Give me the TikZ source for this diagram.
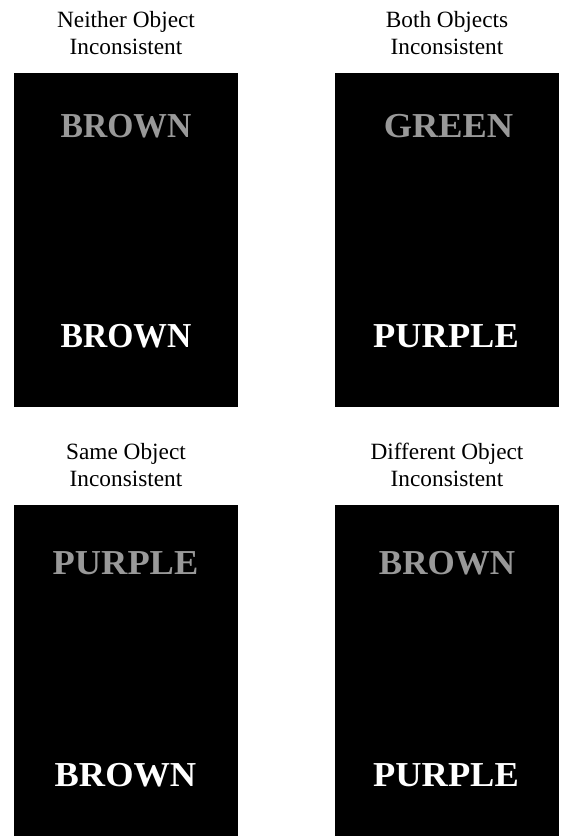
\documentclass[tikz,border=0pt]{standalone}
\usepackage{fontspec}
\setmainfont{Liberation Serif}
\begin{document}
\begin{tikzpicture}[x=1pt,y=-1pt,
  panel/.style={fill=black,draw=none},
  ttl/.style={anchor=base,inner sep=0pt,font=\fontsize{23.3}{27}\selectfont},
  word/.style={anchor=base,inner sep=0pt,font=\fontsize{35}{40}\selectfont\bfseries},
  dim/.style={word,text={rgb,255:red,153;green,153;blue,153}},
  lit/.style={word,text=white}]
\useasboundingbox (0,0) rectangle (564,836);
% panels
\path[panel] (14,73) rectangle (238,407);
\path[panel] (335,73) rectangle (559,407);
\path[panel] (14,505) rectangle (238,836);
\path[panel] (335,505) rectangle (559,836);
% titles
\node[ttl] (t1a) at (126,27) {Neither Object};
\node[ttl] (t1b) at (126,54) {Inconsistent};
\node[ttl] (t2a) at (447,27) {Both Objects};
\node[ttl] (t2b) at (447,54) {Inconsistent};
\node[ttl] (t3a) at (126,459.5) {Same Object};
\node[ttl] (t3b) at (126,486.5) {Inconsistent};
\node[ttl] (t4a) at (447,459.5) {Different Object};
\node[ttl] (t4b) at (447,486.5) {Inconsistent};
% words
\node[dim,xscale=0.96] (w1a) at (126,137) {BROWN};
\node[lit,xscale=0.96] (w1b) at (126,347.5) {BROWN};
\node[dim,xscale=1.04] (w2a) at (448.5,137) {GREEN};
\node[lit,xscale=1.04] (w2b) at (446,347) {PURPLE};
\node[dim,xscale=1.04] (w3a) at (125.5,574) {PURPLE};
\node[lit,xscale=1.04] (w3b) at (125.5,786) {BROWN};
\node[dim] (w4a) at (447,574) {BROWN};
\node[lit,xscale=1.04] (w4b) at (446,786) {PURPLE};
\end{tikzpicture}
\end{document}
